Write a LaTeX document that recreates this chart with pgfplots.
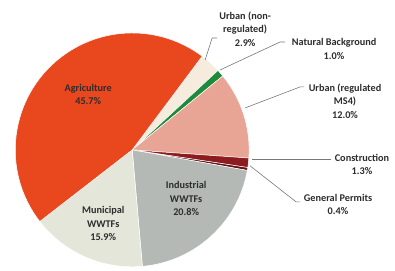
\documentclass[border=0pt]{standalone}
\usepackage{pgfplots}
\pgfplotsset{compat=1.18}
\usepackage{fontspec}
\setmainfont{Carlito}
\definecolor{cAgr}{RGB}{233,72,30}
\definecolor{cUrbN}{RGB}{246,236,222}
\definecolor{cNat}{RGB}{30,138,58}
\definecolor{cUrbR}{RGB}{232,165,150}
\definecolor{cCon}{RGB}{140,28,30}
\definecolor{cGen}{RGB}{100,20,22}
\definecolor{cInd}{RGB}{180,185,181}
\definecolor{cMun}{RGB}{228,230,218}
\definecolor{cLead}{RGB}{120,120,120}
\definecolor{cTxt}{RGB}{45,45,45}
% slice: cumulative start (%), value (%), colour; clockwise from 53.24 deg
\newcommand{\slice}[3]{%
  \fill[#3, draw=white, line width=0.5pt, line join=round] (axis cs:132,118) -- ++({53.24-3.6*(#1)}:117bp) arc[start angle={53.24-3.6*(#1)}, end angle={53.24-3.6*(#1+#2)}, radius=117bp] -- cycle;%
}
\begin{document}
\begin{tikzpicture}
\begin{axis}[
  width=395bp, height=268bp, scale only axis,
  xmin=0, xmax=395, ymin=0, ymax=268,
  hide axis, clip=false,
]
\path (axis cs:0,0) rectangle (axis cs:395,268);
\slice{0}{2.9}{cUrbN}
\slice{2.9}{1.0}{cNat}
\slice{3.9}{12.0}{cUrbR}
\slice{15.9}{1.3}{cCon}
\slice{17.2}{0.4}{cGen}
\slice{17.6}{20.8}{cInd}
\slice{38.4}{15.9}{cMun}
\slice{54.3}{45.7}{cAgr}
% leader lines
\draw[cLead, line width=0.6pt] (axis cs:205,208) -- (axis cs:212,230) -- (axis cs:217,230);
\draw[cLead, line width=0.6pt] (axis cs:220,198) -- (axis cs:280,226) -- (axis cs:285,226);
\draw[cLead, line width=0.6pt] (axis cs:245,160) -- (axis cs:300,181) -- (axis cs:304,181);
\draw[cLead, line width=0.6pt] (axis cs:252,109) -- (axis cs:331,109);
\draw[cLead, line width=0.6pt] (axis cs:250,102) -- (axis cs:296,66) -- (axis cs:300,66);
% labels
\tikzset{lab/.style={align=center, inner sep=0pt, text=cTxt, font=\fontsize{10.3}{13.5}\selectfont\bfseries}}
\node[lab] at (axis cs:88,173.5) {Agriculture\\45.7\%};
\node[lab] at (axis cs:103,44) {Municipal\\WWTFs\\15.9\%};
\node[lab] at (axis cs:186,69) {Industrial\\WWTFs\\20.8\%};
\node[lab] at (axis cs:245,239) {Urban (non-\\regulated)\\2.9\%};
\node[lab] at (axis cs:334,219) {Natural Background\\1.0\%};
\node[lab] at (axis cs:345,167) {Urban (regulated\\MS4)\\12.0\%};
\node[lab] at (axis cs:362,103.5) {Construction\\1.3\%};
\node[lab] at (axis cs:338,63.5) {General Permits\\0.4\%};
\end{axis}
\end{tikzpicture}
\end{document}
